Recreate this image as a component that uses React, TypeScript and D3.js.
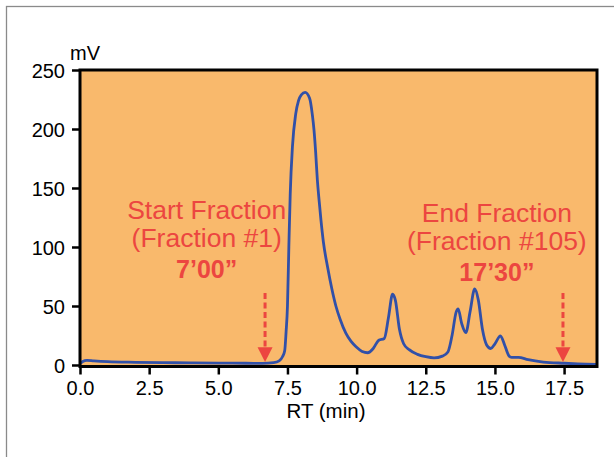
import React, { useEffect, useRef } from 'react';
import * as d3 from 'd3';

// chromatogram trace, retention time (min) vs signal (mV)
const rtMin = [
  0.0, 0.1, 0.25, 0.5, 1.0, 2.0, 3.0, 4.0, 5.0, 6.0, 6.6, 7.0, 7.2, 7.32, 7.4, 7.45, 7.5, 7.55,
  7.6, 7.68, 7.8, 7.9, 8.0, 8.14, 8.3, 8.4, 8.46, 8.52, 8.58, 8.65, 8.71, 8.8, 8.95, 9.1, 9.25,
  9.4, 9.61, 9.8, 9.98, 10.2, 10.4, 10.6, 10.8, 11.0, 11.15, 11.3, 11.4, 11.55, 11.7, 11.9, 12.2,
  12.5, 12.8, 13.1, 13.3, 13.45, 13.6, 13.67, 13.8, 13.95, 14.1, 14.27, 14.4, 14.55, 14.7, 14.85,
  15.0, 15.2, 15.35, 15.5, 15.6, 15.85, 16.2, 16.75, 17.5, 18.0, 18.69
];
const signalMv = [
  1.0, 3.0, 4.0, 3.5, 2.8, 2.3, 2.0, 1.8, 1.6, 1.5, 1.4, 2.0, 3.5, 7, 12, 28, 50, 100,
  145, 185, 213, 224, 229, 231, 226, 212, 199, 180, 157, 138, 123, 104, 83, 65, 50,
  39, 27, 20, 15.5, 11.5, 10.4, 14, 21, 22.5, 40, 60, 55, 30, 18, 13, 9,
  7, 6, 7.5, 11, 25, 45, 47.5, 35, 27.4, 45, 64.4, 55, 30, 17, 14,
  18, 24.6, 17, 8, 6.5, 6.5, 4.5, 2.5, 1.5, 1.0, 0.6
];

const xTicks = [0, 2.5, 5, 7.5, 10, 12.5, 15, 17.5];
const yTicks = [0, 50, 100, 150, 200, 250];

// fraction markers
const markerTitles = ['Start Fraction', 'End Fraction'];
const markerSubtitles = ['(Fraction #1)', '(Fraction #105)'];
const markerTimes = ['7\u201900\u201D', '17\u201930\u201D'];
const arrowRt = [6.69, 17.46];
const labelRt = [4.58, 15.07];

const W = 614, H = 457;
const left = 80, right = 597, top = 70, bottom = 365;
const font = 'Liberation Sans, Arial, Helvetica, sans-serif';
const red = '#ec4640';

export default function App() {
  const svgRef = useRef<SVGSVGElement>(null);

  useEffect(() => {
    const svg = d3.select(svgRef.current);
    svg.selectAll('*').remove();

    const x = d3.scaleLinear().domain([0, 18.69]).range([left, right]);
    const y = d3.scaleLinear().domain([0, 250]).range([bottom, top]);

    // outer frame
    svg.append('rect')
      .attr('x', 6.5).attr('y', 6.5).attr('width', 640).attr('height', 480)
      .attr('fill', 'none').attr('stroke', '#8a8a8a').attr('stroke-width', 1.3);

    svg.append('rect')
      .attr('x', left).attr('y', top)
      .attr('width', right - left).attr('height', bottom + 1 - top)
      .attr('fill', '#f9b96c');

    const data = rtMin.map((t, i) => ({ t, v: signalMv[i] }));
    const line = d3.line<{ t: number; v: number }>()
      .x(d => x(d.t))
      .y(d => y(d.v))
      .curve(d3.curveMonotoneX);

    svg.append('path')
      .datum(data)
      .attr('fill', 'none')
      .attr('stroke', '#3150a8')
      .attr('stroke-width', 2.8)
      .attr('stroke-linejoin', 'round')
      .attr('d', line);

    // annotations
    markerTitles.forEach((title, i) => {
      const g = svg.append('g')
        .attr('fill', red)
        .attr('font-family', font)
        .attr('font-size', 26.5)
        .attr('text-anchor', 'middle');
      const dy = i === 0 ? 0 : 3;
      g.append('text').attr('x', x(labelRt[i])).attr('y', 219 + dy).text(title);
      g.append('text').attr('x', x(labelRt[i])).attr('y', 247 + dy).text(markerSubtitles[i]);
      g.append('text').attr('x', x(labelRt[i])).attr('y', 278 + dy)
        .attr('font-weight', 'bold').attr('font-size', 25).text(markerTimes[i]);

      const ax = x(arrowRt[i]);
      svg.append('line')
        .attr('x1', ax).attr('x2', ax)
        .attr('y1', y(61)).attr('y2', y(15))
        .attr('stroke', red).attr('stroke-width', 3)
        .attr('stroke-dasharray', '6,3.5');
      svg.append('path')
        .attr('d', `M${ax - 7.5},${y(15)}L${ax + 7.5},${y(15)}L${ax},${y(2.5)}Z`)
        .attr('fill', red);
    });

    // frame
    svg.append('rect')
      .attr('x', left).attr('y', top)
      .attr('width', right - left).attr('height', bottom + 1.5 - top)
      .attr('fill', 'none').attr('stroke', '#000').attr('stroke-width', 3);

    const yAxis = svg.append('g')
      .attr('transform', `translate(${left},0)`)
      .call(d3.axisLeft(y).tickValues(yTicks).tickSize(8).tickPadding(7).tickFormat(d3.format('d')));
    const xAxis = svg.append('g')
      .attr('transform', `translate(0,${bottom + 1.5})`)
      .call(d3.axisBottom(x).tickValues(xTicks).tickSize(8).tickPadding(6).tickFormat(d3.format('.1f')));

    [yAxis, xAxis].forEach(a => {
      a.select('.domain').remove();
      a.selectAll('line').attr('stroke', '#000').attr('stroke-width', 2.5);
      a.selectAll('text').attr('font-family', font).attr('font-size', 20).attr('fill', '#000');
    });
    yAxis.selectAll('text').attr('dy', '0.36em');

    svg.append('text')
      .attr('x', 70).attr('y', 60)
      .attr('font-family', font).attr('font-size', 20)
      .text('mV');
    svg.append('text')
      .attr('x', 326).attr('y', 418)
      .attr('text-anchor', 'middle')
      .attr('font-family', font).attr('font-size', 20.5)
      .text('RT (min)');
  }, []);

  return (
    <svg ref={svgRef} width={W} height={H}
      style={{ position: 'absolute', left: 0, top: 0, background: '#fff' }} />
  );
}
